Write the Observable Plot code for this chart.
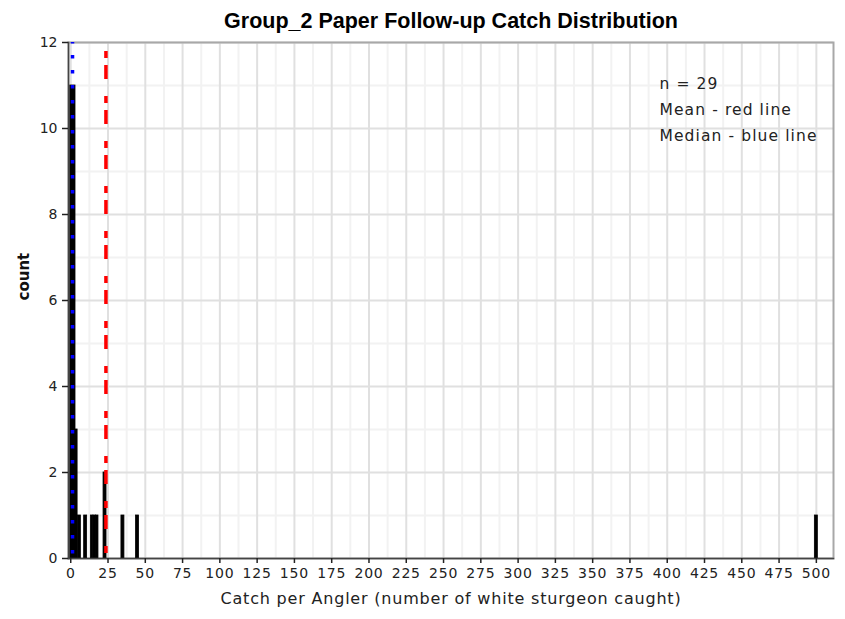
<!DOCTYPE html>
<html><head><meta charset="utf-8">
<script src="https://cdn.jsdelivr.net/npm/d3@7"></script>
<script src="https://cdn.jsdelivr.net/npm/@observablehq/plot@0.6"></script>
<style>
body{margin:0;background:#fff;width:845px;height:619px;overflow:hidden}
g[aria-label="x-axis tick label"] text{letter-spacing:0.8px}
.xlab text{letter-spacing:0.8px}
.legend text{letter-spacing:1.1px}
</style></head><body>
<div id="chart"></div>
<script>
// Histogram bins (catch per angler) and their counts
const binStart = [-0.3, 3.2, 4.8, 9.0, 13.5, 15.2, 16.9, 22.0, 34.0, 43.8, 499.0];
const binEnd   = [ 3.2, 4.6, 6.8, 11.0, 15.2, 16.9, 18.6, 24.0, 36.0, 45.8, 501.0];
const counts   = [ 11,  3,   1,   1,    1,    1,    1,    2,    1,    1,    1];
const meanValue = 23.6;
const medianValue = 1.2;
const xTicks = d3.range(0, 501, 25);
const xMinor = d3.range(12.5, 500, 25);
const yTicks = [0, 2, 4, 6, 8, 10, 12];
const yMinor = [1, 3, 5, 7, 9, 11];
const titleText = "Group_2 Paper Follow-up Catch Distribution";
const xLabel = "Catch per Angler (number of white sturgeon caught)";
const yLabel = "count";
const legendLines = ["n = 29", "Mean - red line", "Median - blue line"];

const bins = binStart.map((s, i) => ({x1: s, x2: binEnd[i], count: counts[i]}));

const chart = Plot.plot({
  width: 845, height: 619,
  marginTop: 42, marginBottom: 61, marginLeft: 68, marginRight: 12,
  x: {domain: [-1.5, 511.5], label: null},
  y: {domain: [0, 12], label: null},
  style: {fontFamily: "DejaVu Sans, sans-serif", fontSize: "14px", color: "#222", background: "#fff"},
  marks: [
    Plot.gridX(xMinor, {stroke: "#f2f2f2", strokeOpacity: 1, strokeWidth: 2}),
    Plot.gridY(yMinor, {stroke: "#f2f2f2", strokeOpacity: 1, strokeWidth: 2}),
    Plot.gridX(xTicks, {stroke: "#e0e0e0", strokeOpacity: 1, strokeWidth: 2}),
    Plot.gridY(yTicks, {stroke: "#e0e0e0", strokeOpacity: 1, strokeWidth: 2}),
    Plot.frame({stroke: "#a8a8a8", strokeWidth: 2}),
    Plot.rectY(bins, {x1: "x1", x2: "x2", y: "count", fill: "#000", stroke: "#000", strokeWidth: 0.8}),
    Plot.ruleX([medianValue], {y1: 12, y2: 0, stroke: "#0000ff", strokeWidth: 3.5, strokeDasharray: "3.5,11.5", strokeDashoffset: 2}),
    Plot.ruleX([meanValue], {y1: 12, y2: 0, stroke: "#ff0000", strokeWidth: 3.5, strokeDasharray: "7,7,14,17", strokeDashoffset: 36}),
    Plot.frame({anchor: "left", stroke: "#444", strokeWidth: 1.5}),
    Plot.frame({anchor: "bottom", stroke: "#444", strokeWidth: 1.5}),
    Plot.axisX(xTicks, {tickSize: 5, tickPadding: 5, stroke: "#222", strokeWidth: 1.5, fontSize: 14, label: null}),
    Plot.axisY(yTicks, {tickSize: 6, tickPadding: 5, stroke: "#222", strokeWidth: 1.5, fontSize: 14, label: null}),
    Plot.text([xLabel], {frameAnchor: "bottom", dy: 45, fontSize: 16, fill: "#222", className: "xlab"}),
    Plot.text([yLabel], {frameAnchor: "left", rotate: -90, dx: -44, fontSize: 15, fontWeight: "bold", fill: "#111"}),
    Plot.text([titleText], {frameAnchor: "top", dy: -30, fontSize: 21.5, fontWeight: "bold", fill: "#000",
      fontFamily: "Liberation Sans, Arial, sans-serif"}),
    Plot.text([legendLines.join("\n")], {frameAnchor: "top-left", dx: 591, dy: 28, textAnchor: "start", lineAnchor: "top",
      lineHeight: 1.68, fontSize: 15.5, fill: "#222", className: "legend"})
  ]
});
document.getElementById("chart").appendChild(chart);
</script>
</body></html>
